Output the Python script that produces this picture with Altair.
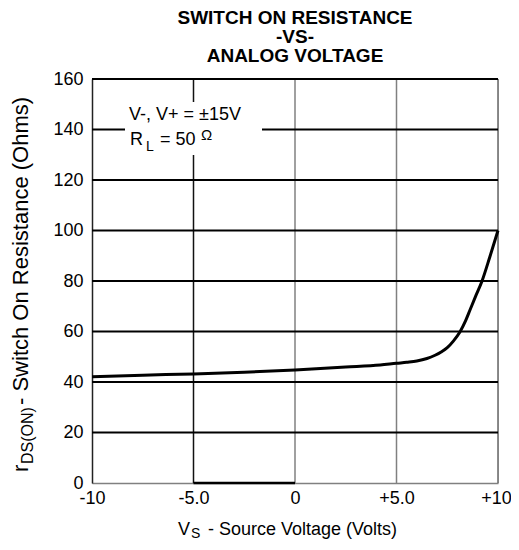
import altair as alt
import pandas as pd

# ---- data ----
vs = [-10, -7.5, -5, -2.5, 0, 2.5, 4.2, 5, 5.5, 6, 6.5, 6.9, 7.2, 7.5, 7.8, 8.13,
      8.4, 8.62, 8.9, 9.2, 9.6, 10]
rds = [42.1, 42.7, 43.2, 43.9, 44.8, 45.9, 46.7, 47.4, 47.8, 48.3, 49.3, 50.6, 51.9,
       53.6, 56.2, 59.9, 64.2, 68.5, 74.0, 79.7, 89.6, 100]

x_ticks = [-10, -5, 0, 5, 10]
x_tick_labels = ["-10", "-5.0", "0", "+5.0", "+10"]
y_ticks = [0, 20, 40, 60, 80, 100, 120, 140, 160]
y_grid = [20, 40, 60, 80, 100, 120, 140, 160]
x_grid = [-5, 0, 5, 10]
x_grid_colors = ["#111111", "#808080", "#808080", "#666666"]

title_lines = ["SWITCH ON RESISTANCE", "-VS-", "ANALOG VOLTAGE"]
FONT = "Liberation Sans"

W, H = 406, 404

curve_df = pd.DataFrame({"vs": vs, "r": rds})
xs = alt.Scale(domain=[-10, 10], nice=False, zero=False)
ys = alt.Scale(domain=[0, 160], nice=False)

label_expr = " : ".join(
    f"datum.value == {v} ? '{l}'" for v, l in zip(x_ticks, x_tick_labels)
) + " : ''"

base_x = alt.X("vs:Q", scale=xs, axis=alt.Axis(
    values=x_ticks, labelExpr=label_expr, title=None, grid=False, ticks=False,
    labelFont=FONT, labelFontSize=18, labelColor="black", labelPadding=6,
    labelOffset={"condition": {"test": "datum.value == 10", "value": -2}, "value": 0},
    domainColor="#808080", domainWidth=1.5, labelFlush=False))
base_y = alt.Y("r:Q", scale=ys, axis=alt.Axis(
    values=y_ticks, title=None, grid=False, ticks=False,
    labelFont=FONT, labelFontSize=18, labelColor="black", labelPadding=9,
    domainColor="#222222", domainWidth=1.5))

vgrid = alt.Chart(pd.DataFrame({"vs": x_grid, "c": x_grid_colors})).mark_rule(
    strokeWidth=1.5).encode(x=alt.X("vs:Q", scale=xs),
                            color=alt.Color("c:N", scale=None))
hgrid = alt.Chart(pd.DataFrame({"r": y_grid})).mark_rule(
    color="black", strokeWidth=2).encode(y=alt.Y("r:Q", scale=ys))

box = alt.Chart(pd.DataFrame({"a": [0]})).mark_rect(color="white").encode(
    x=alt.value(33), x2=alt.value(170), y=alt.value(23), y2=alt.value(76))

curve = alt.Chart(curve_df).mark_line(
    color="black", strokeWidth=3, interpolate="monotone").encode(x=base_x, y=base_y)

seg = alt.Chart(pd.DataFrame({"vs": [-5], "vs2": [0], "r": [0]})).mark_rule(
    color="black", strokeWidth=2.5).encode(
    x=alt.X("vs:Q", scale=xs), x2="vs2:Q", y=alt.Y("r:Q", scale=ys))


def txt(s, x, y, size=18, weight="normal", align="left", angle=0):
    return alt.Chart(pd.DataFrame({"t": [s]})).mark_text(
        font=FONT, fontSize=size, fontWeight=weight, align=align,
        baseline="alphabetic", color="black", angle=angle).encode(
        text="t:N", x=alt.value(x), y=alt.value(y))


layers = [vgrid, hgrid, box, curve, seg]
# title
for line, yy in zip(title_lines, [-55, -36, -17]):
    layers.append(txt(line, 203, yy, size=19, weight="bold", align="center"))
# legend box text
layers.append(txt("V-, V+ =  \u00b115V", 37, 41))
layers.append(txt("R", 38, 66))
layers.append(txt("L", 54, 72, size=14))
layers.append(txt("= 50", 68, 66))
layers.append(txt("\u03a9", 109, 61, size=15))
# x axis title
layers.append(txt("V", 86, 456))
layers.append(txt("S", 99, 459, size=14))
layers.append(txt("- Source Voltage (Volts)", 116, 456))
# y axis title (rotated)
layers.append(txt("r", -64, 393, size=22, angle=270))
layers.append(txt("DS(ON)", -59, 385, size=16, angle=270))
layers.append(txt("- Switch On Resistance (Ohms)", -64, 326, size=22, angle=270))

chart = alt.layer(*layers).properties(
    width=W, height=H,
    autosize=alt.AutoSizeParams(type="none"),
    padding={"left": 84, "top": 71, "right": 13, "bottom": 59},
).configure_view(stroke=None).configure(background="white")

chart.save("out.html", embed_options={"renderer": "svg", "actions": False})
